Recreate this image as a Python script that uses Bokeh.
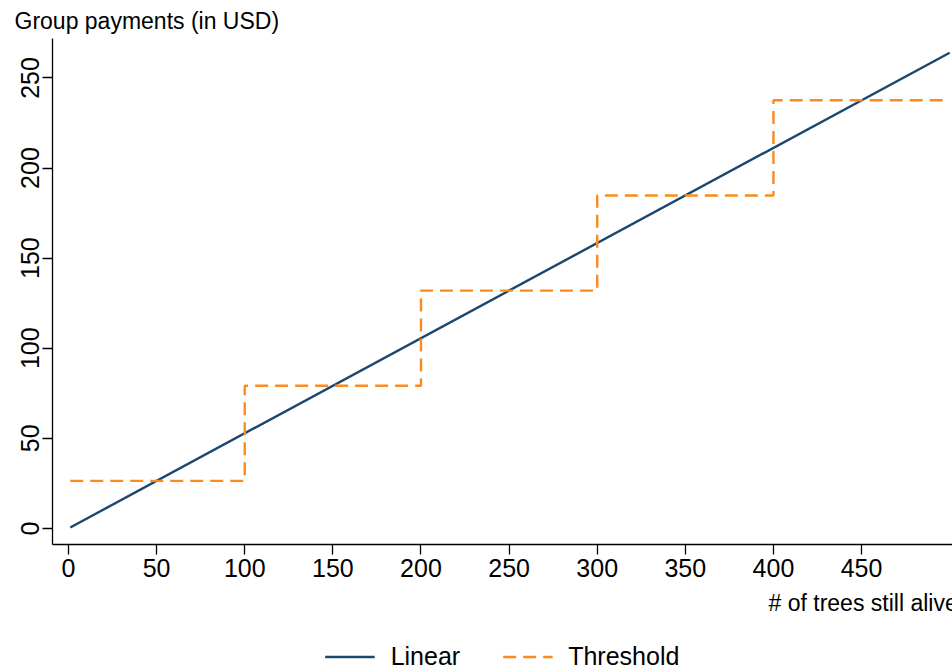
from bokeh.plotting import figure
from bokeh.layouts import column
from bokeh.models import Range1d, FixedTicker, Title, Legend, LegendItem
from bokeh.embed import file_html
from bokeh.resources import INLINE

# ---- data ----
linear_trees = [1, 500]
linear_payment = [0.53, 264.0]
threshold_trees = [1, 100, 200, 300, 400, 500]
threshold_payment = [26.4, 79.2, 132.0, 184.8, 237.6, 237.6]
x_ticks = [0, 50, 100, 150, 200, 250, 300, 350, 400, 450]
y_ticks = [0, 50, 100, 150, 200, 250]
y_title = "Group payments (in USD)"
x_title = "# of trees still alive"
series_names = ["Linear", "Threshold"]

FONT = "Liberation Sans"
NAVY = "#1a476f"
ORANGE = "#fd8a1c"
LEG_H = 30

p = figure(width=952, height=671 - LEG_H, output_backend="svg", toolbar_location=None,
           x_range=Range1d(-9.08, 501.6), y_range=Range1d(-8.9, 271.9),
           min_border_left=52, min_border_right=0, min_border_top=38,
           min_border_bottom=671 - LEG_H - 544)
p.outline_line_color = None
p.xgrid.visible = False
p.ygrid.visible = False
p.background_fill_color = "white"
p.border_fill_color = "white"

for ax, ticks in ((p.xaxis[0], x_ticks), (p.yaxis[0], y_ticks)):
    ax.ticker = FixedTicker(ticks=ticks)
    ax.minor_tick_line_color = None
    ax.major_tick_in = 0
    ax.major_tick_out = 10
    ax.major_tick_line_color = "black"
    ax.major_tick_line_width = 1.3
    ax.axis_line_color = "black"
    ax.axis_line_width = 1.3
    ax.major_label_text_font = FONT
    ax.major_label_text_font_size = "25px"
    ax.major_label_text_color = "black"
p.xaxis[0].major_label_standoff = 4
p.yaxis[0].major_label_standoff = 3
p.yaxis[0].major_label_orientation = "vertical"

p.line(linear_trees, linear_payment, line_color=NAVY, line_width=2.4)
p.step(threshold_trees, threshold_payment, mode="after", line_color=ORANGE,
       line_width=2.4, line_dash="13 7")

p.title.text = y_title
p.title.align = "left"
p.title.offset = -38
p.title.standoff = 9
p.title.text_font = FONT
p.title.text_font_size = "23px"
p.title.text_font_style = "normal"
p.title.text_color = "black"

xt = Title(text=x_title, align="left", offset=716, standoff=16, text_font=FONT,
           text_font_size="23px", text_font_style="normal", text_color="black")
p.add_layout(xt, "below")

# legend strip below the plot (its own small figure, same series)
q = figure(width=952, height=LEG_H, output_backend="svg", toolbar_location=None,
           x_range=Range1d(-2000, -1900), y_range=Range1d(-2000, -1900),
           x_axis_type=None, y_axis_type=None,
           min_border_left=0, min_border_right=0, min_border_top=0, min_border_bottom=0)
q.outline_line_color = None
q.xgrid.visible = False
q.ygrid.visible = False
q_lin = q.line(linear_trees, linear_payment, line_color=NAVY, line_width=2.4)
q_thr = q.line(threshold_trees, threshold_payment, line_color=ORANGE,
               line_width=2.4, line_dash="13 7")
legend = Legend(items=[LegendItem(label=series_names[0], renderers=[q_lin]),
                       LegendItem(label=series_names[1], renderers=[q_thr])],
                location="center", orientation="horizontal",
                glyph_width=50, glyph_height=20, label_standoff=16, spacing=42,
                padding=0, margin=0, border_line_color=None, background_fill_alpha=0,
                label_text_font=FONT, label_text_font_size="25px", label_text_color="black")
q.add_layout(legend, "center")

layout = column(p, q, spacing=0)
open("out.html", "w").write(file_html(layout, INLINE))
